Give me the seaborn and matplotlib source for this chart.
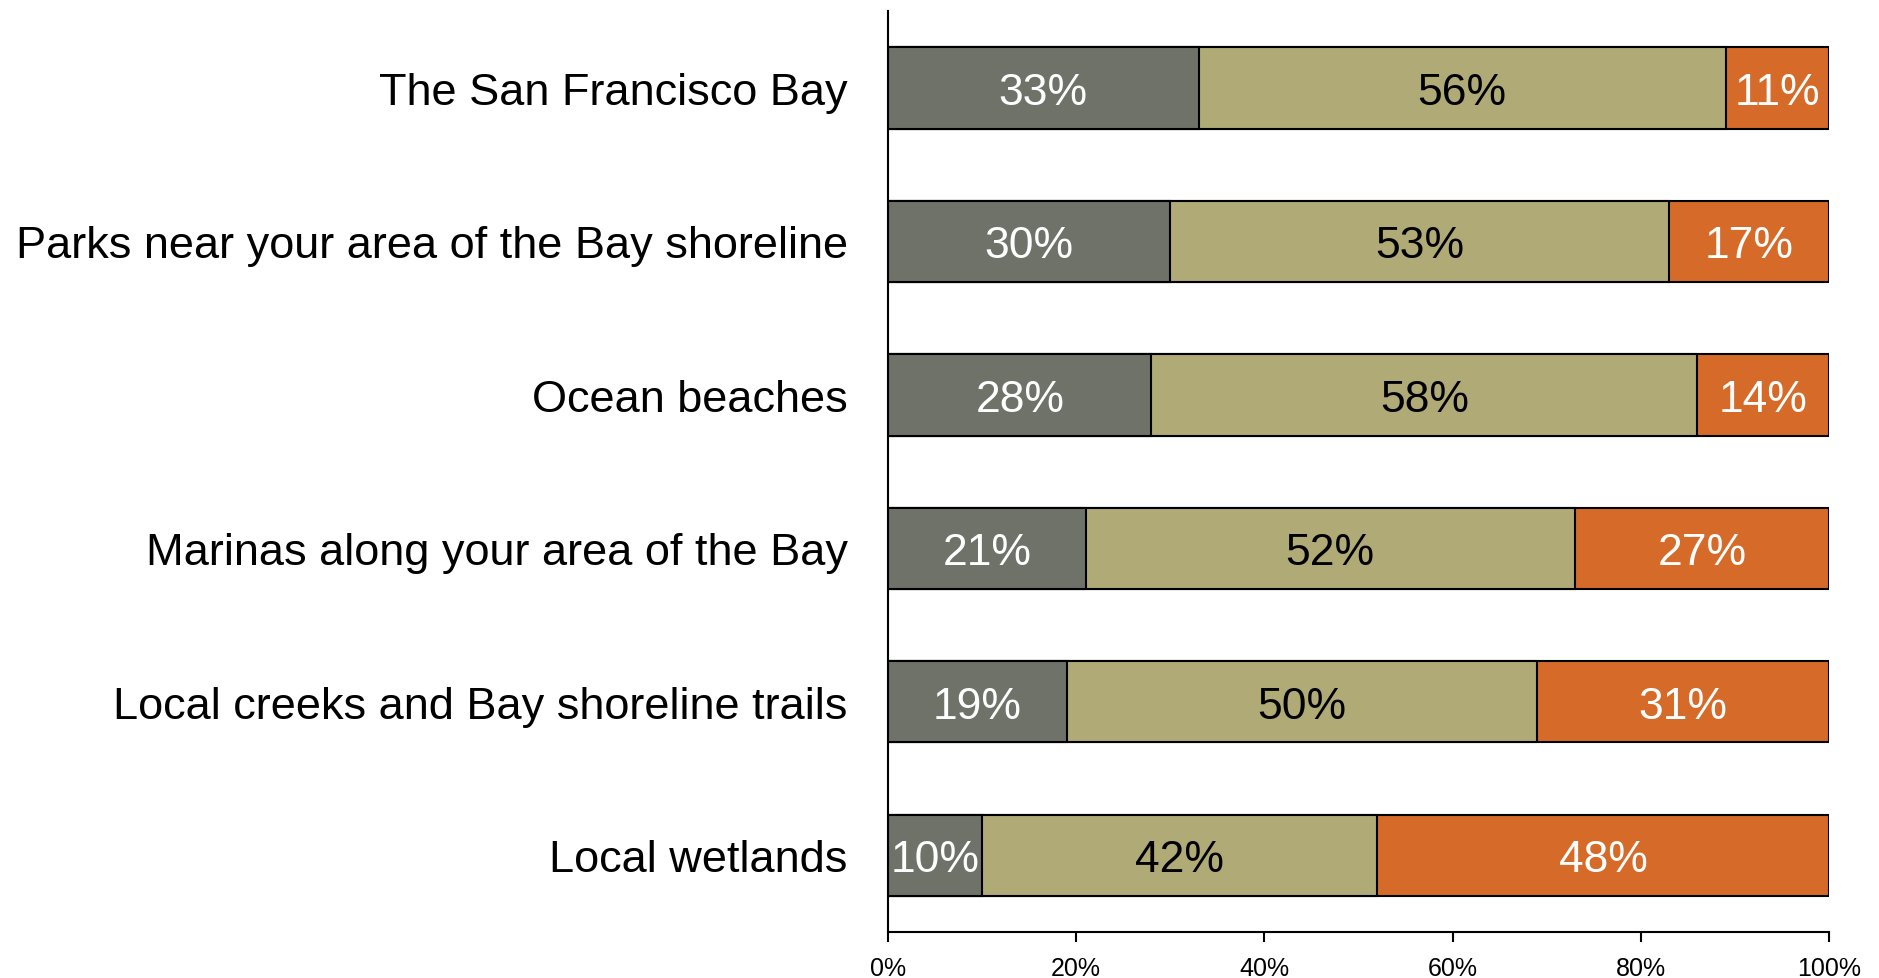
import numpy as np
import pandas as pd
import matplotlib
matplotlib.use("Agg")
import matplotlib.pyplot as plt
import seaborn as sns

categories = [
    "The San Francisco Bay",
    "Parks near your area of the Bay shoreline",
    "Ocean beaches",
    "Marinas along your area of the Bay",
    "Local creeks and Bay shoreline trails",
    "Local wetlands",
]
first = [33, 30, 28, 21, 19, 10]
second = [56, 53, 58, 52, 50, 42]
third = [11, 17, 14, 27, 31, 48]
tick_labels = ["0%", "20%", "40%", "60%", "80%", "100%"]

colors = ["#6E7268", "#B0AA76", "#D66A28"]
text_colors = ["white", "black", "white"]

sns.set_theme(style="white")
plt.rcParams["font.family"] = ["Liberation Sans", "DejaVu Sans"]
plt.rcParams["text.color"] = "black"
plt.rcParams["xtick.color"] = "black"
plt.rcParams["ytick.color"] = "black"

fig = plt.figure(figsize=(18.79, 9.79), dpi=100)
ax = fig.add_axes([0.4726, 0.047, 0.5008, 0.9405])

series = [first, second, third]
cum = np.cumsum(np.array(series), axis=0)

# Draw stacked segments as overlapping cumulative bars, longest first
for i in range(len(series) - 1, -1, -1):
    df = pd.DataFrame({"category": categories, "value": cum[i]})
    sns.barplot(data=df, x="value", y="category", orient="h", color=colors[i],
                saturation=1, width=0.53, edgecolor="black", linewidth=1.5, ax=ax)

# Segment value labels
for i, vals in enumerate(series):
    starts = cum[i] - np.array(vals)
    for j, v in enumerate(vals):
        ax.text(starts[j] + v / 2, j, f"{v}%", ha="center", va="center_baseline",
                fontsize=32, color=text_colors[i])

ax.set_xlim(0, 100)
ax.set_ylim(5.5, -0.5)
ax.set_xticks([0, 20, 40, 60, 80, 100])
ax.set_xticklabels(tick_labels)
ax.set_xlabel("")
ax.set_ylabel("")
ax.tick_params(axis="x", which="both", bottom=True, length=7, width=1.5,
               labelsize=18, color="black", labelcolor="black", pad=10)
ax.tick_params(axis="y", length=0, labelsize=32.5, labelcolor="black", pad=29)
for label in ax.get_yticklabels():
    label.set_verticalalignment("center_baseline")
for s in ["top", "right"]:
    ax.spines[s].set_visible(False)
for s in ["left", "bottom"]:
    ax.spines[s].set_color("black")
    ax.spines[s].set_linewidth(1.5)

fig.savefig("out.png", dpi=100, facecolor="white")
